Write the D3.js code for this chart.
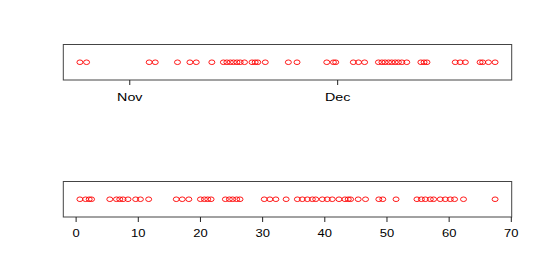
<!DOCTYPE html>
<html>
<head>
<meta charset="utf-8">
<script src="https://cdn.jsdelivr.net/npm/d3@7"></script>
<style>
  html, body { margin: 0; padding: 0; background: #fff; }
  svg { display: block; }
  text { font-family: "Liberation Sans", Arial, Helvetica, sans-serif; fill: #000; }
</style>
</head>
<body>
<script>
// ---- data ----
const dateValues = [
  "2008-10-24T21:00", "2008-10-25T20:00", "2008-11-03T21:00", "2008-11-04T18:00",
  "2008-11-07T23:00", "2008-11-09T18:00", "2008-11-10T16:00", "2008-11-12T22:00",
  "2008-11-14T14:00", "2008-11-15T02:00", "2008-11-15T14:00", "2008-11-16T01:00",
  "2008-11-16T13:00", "2008-11-17T00:00", "2008-11-17T15:00", "2008-11-18T17:00",
  "2008-11-19T04:00", "2008-11-19T13:00", "2008-11-20T15:00", "2008-11-23T23:00",
  "2008-11-25T05:00", "2008-11-29T12:00", "2008-11-30T11:00", "2008-11-30T19:00",
  "2008-12-03T08:00", "2008-12-04T02:00", "2008-12-04T23:00", "2008-12-06T23:00",
  "2008-12-07T11:00", "2008-12-07T22:00", "2008-12-08T10:00", "2008-12-08T21:00",
  "2008-12-09T09:00", "2008-12-09T20:00", "2008-12-10T08:00", "2008-12-11T01:00",
  "2008-12-13T02:00", "2008-12-13T13:00", "2008-12-13T23:00", "2008-12-18T01:00",
  "2008-12-18T18:00", "2008-12-19T12:00", "2008-12-21T15:00", "2008-12-22T00:00",
  "2008-12-22T20:00", "2008-12-23T19:00"
];
const numValues = [
  0.69, 1.60, 2.18, 2.56, 5.50, 6.57, 7.10, 7.63, 8.43, 9.66, 10.42, 11.75,
  16.19, 17.15, 18.21, 20.08, 20.72, 21.25, 21.79, 24.09, 24.73, 25.26, 25.90, 26.44,
  30.34, 31.25, 32.21, 33.86, 35.67, 36.47, 37.28, 38.08, 38.62, 39.68, 40.48, 41.28,
  42.36, 43.32, 43.85, 44.23, 45.45, 46.63, 48.77, 49.41, 51.54, 54.90, 55.61, 56.25,
  57.05, 57.58, 58.65, 59.46, 60.26, 60.95, 62.39, 67.47
];
const numTicks = [0, 10, 20, 30, 40, 50, 60, 70];
const monthLabelFormat = "%b";

// ---- layout ----
const W = 545, H = 273;
const left = 63.3, right = 511.7;
const topPanel = { y0: 44.5, y1: 80 };
const botPanel = { y0: 181.5, y1: 217 };
const textStretch = "scale(1.3,1)";

const svg = d3.select("body").append("svg").attr("width", W).attr("height", H);

function padded(ext, f) {
  const span = ext[1] - ext[0];
  return [ext[0] - span * f, ext[1] + span * f];
}

// ---- top: dates ----
const parse = d3.timeParse("%Y-%m-%dT%H:%M");
const dates = dateValues.map(parse);
const dExt = d3.extent(dates).map(d => +d);
const dDom = padded(dExt, 0.04).map(v => new Date(v));
const xDate = d3.scaleTime().domain(dDom).range([left, right]);

const gTop = svg.append("g");
gTop.append("rect")
  .attr("x", left).attr("y", topPanel.y0)
  .attr("width", right - left).attr("height", topPanel.y1 - topPanel.y0)
  .attr("fill", "none").attr("stroke", "#444").attr("stroke-width", 1);
gTop.selectAll("ellipse").data(dates).join("ellipse")
  .attr("cx", d => xDate(d))
  .attr("cy", (topPanel.y0 + topPanel.y1) / 2)
  .attr("rx", 3).attr("ry", 2.3)
  .attr("fill", "none").attr("stroke", "#ff0000").attr("stroke-width", 0.9);

const monthTicks = d3.timeMonth.range(dDom[0], dDom[1]).filter(d => d >= dDom[0]);
const axTop = svg.append("g")
  .attr("transform", `translate(0,${topPanel.y1})`)
  .call(d3.axisBottom(xDate).tickValues(monthTicks)
    .tickFormat(d3.timeFormat(monthLabelFormat)).tickSize(5).tickPadding(8));
axTop.select(".domain").remove();
axTop.selectAll(".tick line").attr("stroke", "#222");
axTop.selectAll(".tick text").attr("font-size", 11).attr("transform", textStretch)
  .style("font-family", "'Liberation Sans', Arial, sans-serif");

// ---- bottom: numbers ----
const nDom = padded(d3.extent(numValues), 0.04);
const xNum = d3.scaleLinear().domain(nDom).range([left, right]);

const gBot = svg.append("g");
gBot.append("rect")
  .attr("x", left).attr("y", botPanel.y0)
  .attr("width", right - left).attr("height", botPanel.y1 - botPanel.y0)
  .attr("fill", "none").attr("stroke", "#444").attr("stroke-width", 1);
gBot.selectAll("ellipse").data(numValues).join("ellipse")
  .attr("cx", d => xNum(d))
  .attr("cy", (botPanel.y0 + botPanel.y1) / 2)
  .attr("rx", 3).attr("ry", 2.3)
  .attr("fill", "none").attr("stroke", "#ff0000").attr("stroke-width", 0.9);

const axBot = svg.append("g")
  .attr("transform", `translate(0,${botPanel.y1})`)
  .call(d3.axisBottom(xNum).tickValues(numTicks).tickFormat(d3.format("d"))
    .tickSize(5).tickPadding(8));
axBot.select(".domain").remove();
axBot.selectAll(".tick line").attr("stroke", "#222");
axBot.selectAll(".tick text").attr("font-size", 10).attr("transform", textStretch)
  .style("font-family", "'Liberation Sans', Arial, sans-serif");
</script>
</body>
</html>
